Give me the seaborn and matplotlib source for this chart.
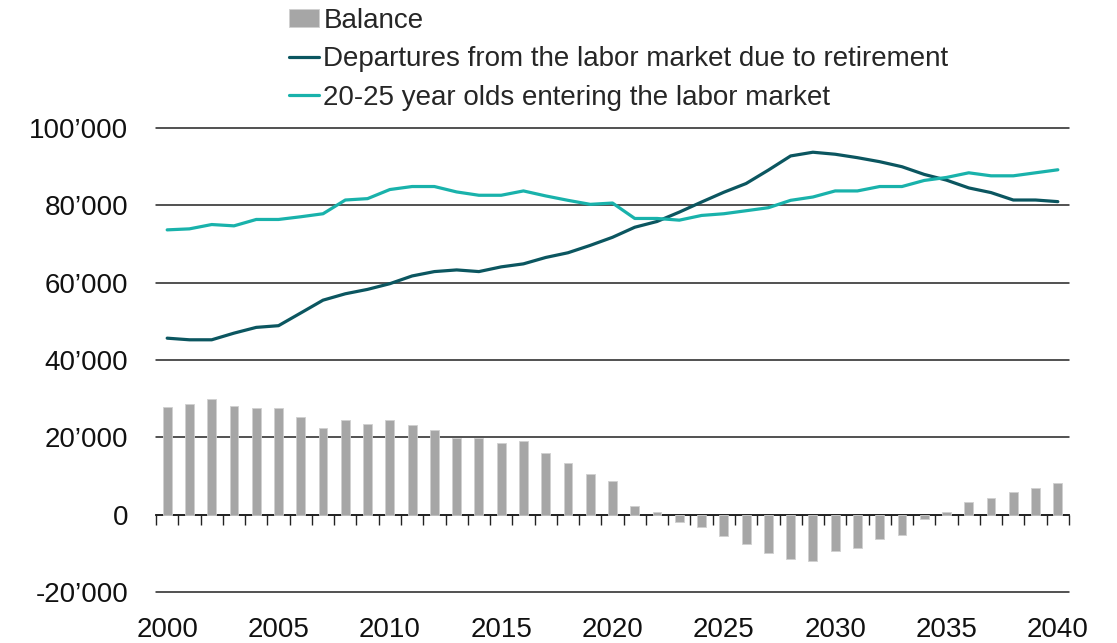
import numpy as np
import pandas as pd
import matplotlib
matplotlib.use("Agg")
import matplotlib.pyplot as plt
import seaborn as sns
from matplotlib.ticker import FuncFormatter

years = list(range(2000, 2041))
balance = [27960, 28740, 29870, 28000, 27500, 27500, 25150, 22360, 24370, 23580,
           24370, 23230, 22010, 19740, 19740, 18520, 18950, 16070, 13280, 10570,
           8650, 2270, 700, -2000, -3140, -5500, -7500, -9870, -11440, -11880,
           -9520, -8650, -6380, -5150, -1220, 700, 3400, 4280, 5760, 6980, 8120]
departures = [45650, 45230, 45230, 46950, 48440, 48880, 52170, 55480, 57130, 58270,
              59740, 61740, 62870, 63300, 62870, 64090, 64870, 66520, 67740, 69650,
              71740, 74340, 75830, 78250, 80860, 83390, 85650, 89120, 92780, 93740,
              93220, 92330, 91290, 89990, 88000, 86520, 84510, 83300, 81380, 81380, 80960]
entering = [73660, 73920, 75040, 74700, 76350, 76350, 77050, 77830, 81380, 81740,
            84090, 84870, 84870, 83470, 82610, 82610, 83730, 82440, 81300, 80260,
            80600, 76610, 76610, 76170, 77390, 77830, 78610, 79390, 81300, 82160,
            83730, 83730, 84870, 84870, 86440, 87220, 88420, 87640, 87640, 88420, 89200]
year_ticks = [2000, 2005, 2010, 2015, 2020, 2025, 2030, 2035, 2040]
y_ticks = [-20000, 0, 20000, 40000, 60000, 80000, 100000]

df = pd.DataFrame({"year": years, "balance": balance,
                   "departures": departures, "entering": entering})

sns.set_style("white")
plt.rcParams["font.family"] = ["Liberation Sans", "DejaVu Sans"]
plt.rcParams["font.size"] = 20

fig = plt.figure(figsize=(11.17, 6.43), dpi=100)
ax = fig.add_axes([0.1397, 0.0793, 0.8173, 0.7216])

sns.barplot(data=df, x="year", y="balance", native_scale=True, width=0.4,
            color="#a6a6a6", saturation=1, edgecolor="#d0d0d0", linewidth=0.6,
            label="Balance", ax=ax, zorder=2)
sns.lineplot(data=df, x="year", y="departures", color="#0b5660", linewidth=2.3,
             label="Departures from the labor market due to retirement", ax=ax, zorder=3)
sns.lineplot(data=df, x="year", y="entering", color="#19b2ab", linewidth=2.3,
             label="20-25 year olds entering the labor market", ax=ax, zorder=3)

ax.set_xlim(1999.5, 2040.5)
ax.set_ylim(-20000, 100000)
ax.set_yticks(y_ticks)
ax.yaxis.set_major_formatter(FuncFormatter(lambda v, p: f"{int(v):,}".replace(",", "\u2019")))
ax.set_xticks(year_ticks)
ax.set_xticklabels([str(y) for y in year_ticks])
ax.tick_params(axis="both", length=0, labelsize=20, colors="#111111")
ax.tick_params(axis="y", pad=20)
ax.tick_params(axis="x", pad=18)
ax.set_xlabel("")
ax.set_ylabel("")
for s in ax.spines.values():
    s.set_visible(False)
ax.grid(axis="y", color="#222222", linewidth=1.1, zorder=1)
ax.grid(axis="x", visible=False)
ax.set_axisbelow(True)
for gl in ax.get_ygridlines():
    gl.set_clip_on(False)

# zero line with category separators
sec = ax.secondary_xaxis(0, transform=ax.transData)
sec.set_xticks(np.arange(1999.5, 2041, 1))
sec.set_xticklabels([])
sec.tick_params(direction="out", length=7, width=1.0, color="#222222")
sec.spines["bottom"].set_color("#222222")
sec.spines["bottom"].set_linewidth(1.3)

handles, labels = ax.get_legend_handles_labels()
ax.get_legend().remove()
order = [labels.index("Balance")] + [i for i, l in enumerate(labels) if l != "Balance"]
fig.legend([handles[i] for i in order], [labels[i] for i in order],
           loc="upper left", bbox_to_anchor=(0.256, 0.992),
           frameon=False, fontsize=20, handlelength=1.1, handleheight=0.65,
           handletextpad=0.15, labelspacing=0.45, borderpad=0.1, borderaxespad=0)

fig.savefig("out.png", dpi=100)
